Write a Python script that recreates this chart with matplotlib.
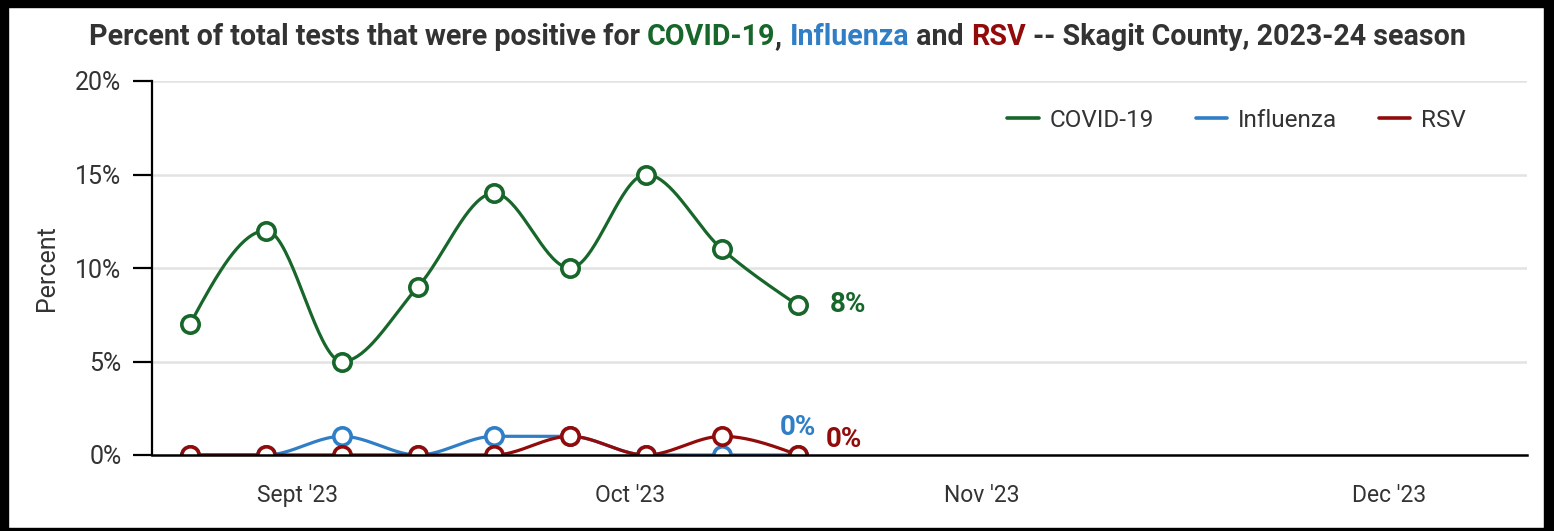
import numpy as np
import matplotlib
matplotlib.use("Agg")
import matplotlib.pyplot as plt
from matplotlib import font_manager
from matplotlib.patches import Rectangle

# data (weekly, percent positive)
weeks = [0, 1, 2, 3, 4, 5, 6, 7, 8]
covid = [7, 12, 5, 9, 14, 10, 15, 11, 8]
flu = [0, 0, 1, 0, 1, 1, 0, 0, 0]
rsv = [0, 0, 0, 0, 0, 1, 0, 1, 0]
month_ticks = [1.41, 5.79, 10.42, 15.78]
month_labels = ["Sept '23", "Oct '23", "Nov '23", "Dec '23"]
y_ticks = [0, 5, 10, 15, 20]

GREEN = "#17662a"
BLUE = "#2f7ec6"
RED = "#920b0b"
DARK = "#333333"

names = {f.name for f in font_manager.fontManager.ttflist}
FONT = "Liberation Sans Narrow" if "Liberation Sans Narrow" in names else "Roboto"
plt.rcParams["font.family"] = [FONT, "DejaVu Sans"]


def monotone_x(x, y, n=40):
    """d3-style monotone cubic curve through the points."""
    x = np.asarray(x, float)
    y = np.asarray(y, float)
    h = np.diff(x)
    s = np.diff(y) / h
    t = np.zeros_like(y)
    for i in range(1, len(y) - 1):
        p = (s[i - 1] * h[i] + s[i] * h[i - 1]) / (h[i - 1] + h[i])
        t[i] = (np.sign(s[i - 1]) + np.sign(s[i])) * min(abs(s[i - 1]), abs(s[i]), 0.5 * abs(p))
    t[0] = (3 * s[0] - t[1]) / 2
    t[-1] = (3 * s[-1] - t[-2]) / 2
    xs, ys = [], []
    for i in range(len(x) - 1):
        u = np.linspace(0, 1, n)
        dx = h[i]
        h00 = 2 * u**3 - 3 * u**2 + 1
        h10 = u**3 - 2 * u**2 + u
        h01 = -2 * u**3 + 3 * u**2
        h11 = u**3 - u**2
        xs.append(x[i] + u * dx)
        ys.append(h00 * y[i] + h10 * dx * t[i] + h01 * y[i + 1] + h11 * dx * t[i + 1])
    return np.concatenate(xs), np.concatenate(ys)


fig = plt.figure(figsize=(15.54, 5.31), dpi=100)
ax = fig.add_axes([152 / 1554, 1 - 455 / 531, (1527 - 152) / 1554, (455 - 81) / 531])

for yv in y_ticks[1:]:
    ax.axhline(yv, color="#e3e3e3", lw=1.8, zorder=0)

for vals, col, lab in [(covid, GREEN, "COVID-19"), (flu, BLUE, "Influenza"), (rsv, RED, "RSV")]:
    cx, cy = monotone_x(weeks, vals)
    ax.plot(cx, cy, color=col, lw=2.3, label=lab, zorder=3, solid_capstyle="round")
    ax.plot(weeks, vals, "o", ms=12.5, mfc="white", mec=col, mew=2.6, zorder=4)

ax.set_xlim(-0.5, 17.59)
ax.set_ylim(0, 20)
ax.set_yticks(y_ticks)
ax.set_yticklabels([f"{v}%" for v in y_ticks])
ax.set_xticks(month_ticks)
ax.set_xticklabels(month_labels)
ax.tick_params(axis="y", length=14, width=1.6, color="black", labelsize=18, labelcolor=DARK, pad=8)
ax.tick_params(axis="x", length=0, labelsize=16.5, labelcolor=DARK, pad=21)
for side in ["top", "right"]:
    ax.spines[side].set_visible(False)
ax.spines["left"].set_linewidth(1.6)
ax.spines["bottom"].set_linewidth(1.8)
ax.spines["bottom"].set_zorder(5)
ax.set_ylabel("Percent", fontsize=18, color=DARK, labelpad=12)

# end labels
ax.annotate(f"{covid[-1]}%", (weeks[-1], covid[-1]), xytext=(23, 1), textcoords="offset points",
            color=GREEN, fontsize=20, fontweight="bold", va="center", ha="left")
ax.annotate(f"{flu[-1]}%", (weeks[-1], flu[-1]), xytext=(0, 20), textcoords="offset points",
            color=BLUE, fontsize=20, fontweight="bold", va="center", ha="center")
ax.annotate(f"{rsv[-1]}%", (weeks[-1], rsv[-1]), xytext=(20, 11), textcoords="offset points",
            color=RED, fontsize=20, fontweight="bold", va="center", ha="left")

leg = ax.legend(loc="upper right", bbox_to_anchor=(0.9556, 0.926), ncol=3, frameon=False,
                fontsize=17.5, handlelength=1.3, columnspacing=1.7, handletextpad=0.45,
                borderaxespad=0, borderpad=0)
for line in leg.get_lines():
    line.set_linewidth(2.6)
for txt in leg.get_texts():
    txt.set_color(DARK)

# multi-coloured title
parts = [("Percent of total tests that were positive for ", DARK), ("COVID-19", GREEN), (", ", DARK),
         ("Influenza", BLUE), (" and ", DARK), ("RSV", RED), (" -- Skagit County, 2023-24 season", DARK)]
fig.canvas.draw()
renderer = fig.canvas.get_renderer()
texts = []
for s, c in parts:
    t = fig.text(0, 1 - 37 / 531, s, color=c, fontsize=20.6, fontweight="bold", va="center", ha="left")
    texts.append(t)
widths = [t.get_window_extent(renderer).width for t in texts]
x0 = 777 - sum(widths) / 2
for t, w in zip(texts, widths):
    t.set_x(x0 / 1554)
    x0 += w

# black frame around the image
W, H = 1554, 531
for (x, y, w, h) in [(0, 0, 8, H), (0, H - 7, W, 7), (W - 10, 0, 10, H), (0, 0, W, 3)]:
    fig.patches.append(Rectangle((x / W, y / H), w / W, h / H, transform=fig.transFigure,
                                 color="black", zorder=10))

fig.savefig("out.png", dpi=100)
